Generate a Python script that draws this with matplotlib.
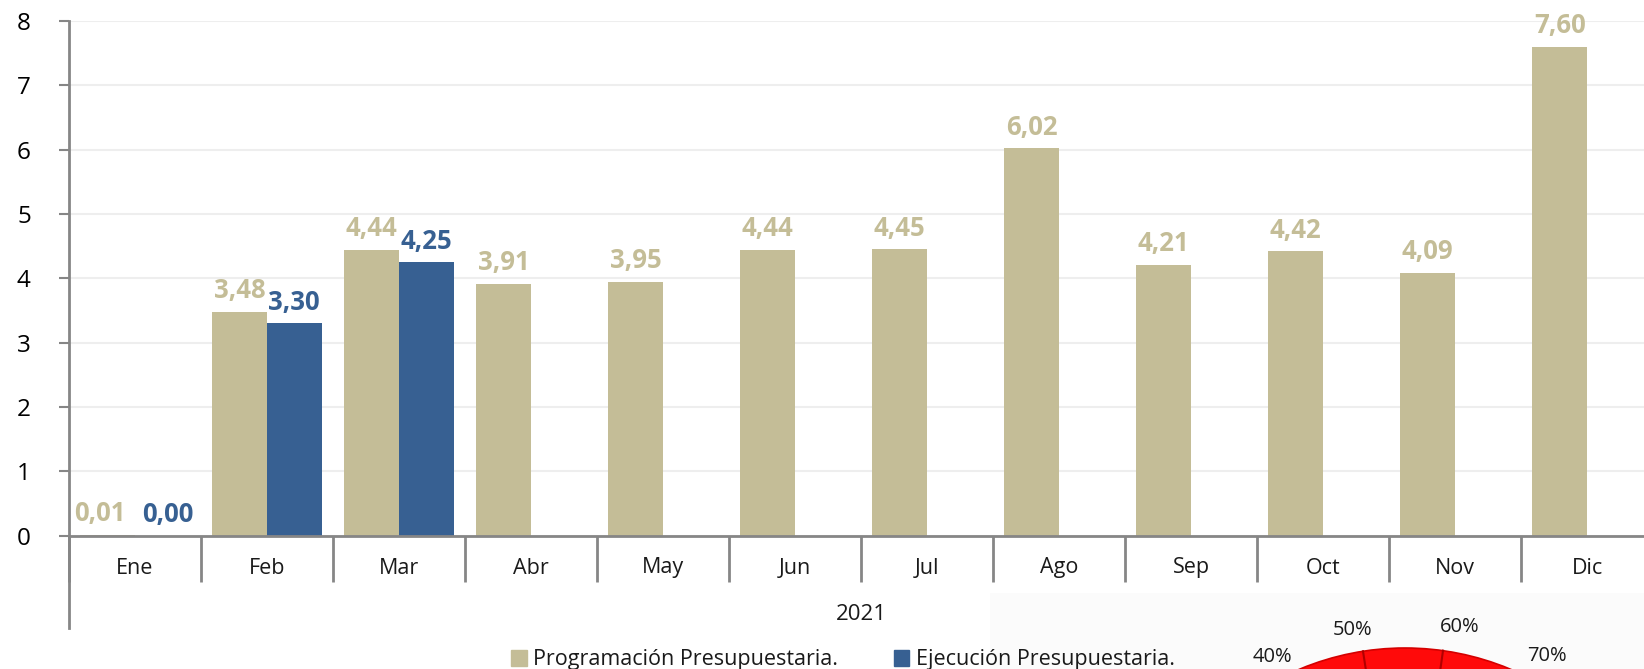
import numpy as np
import matplotlib
matplotlib.use("Agg")
import matplotlib.pyplot as plt
from matplotlib.patches import Rectangle, Circle, Patch
from matplotlib.lines import Line2D
import matplotlib.transforms as mtransforms

# ---- data ----
months = ["Ene", "Feb", "Mar", "Abr", "May", "Jun", "Jul", "Ago", "Sep", "Oct", "Nov", "Dic"]
programacion = [0.01, 3.48, 4.44, 3.91, 3.95, 4.44, 4.45, 6.02, 4.21, 4.42, 4.09, 7.60]
ejecucion = [0.00, 3.30, 4.25]
year_label = "2021"
legend_labels = ["Programación Presupuestaria.", "Ejecución Presupuestaria."]
gauge_labels = ["40%", "50%", "60%", "70%"]

TAN = "#c4bd97"
BLUE = "#376092"
GRAY = "#868686"
FONT = ["Open Sans", "DejaVu Sans"]
plt.rcParams["font.family"] = FONT

W, H = 1644, 669
fig = plt.figure(figsize=(W / 100, H / 100), dpi=100)

y0_px, ytop_px = 535.6, 21.0
ax_h = y0_px - ytop_px
ax = fig.add_axes([69 / W, 1 - y0_px / H, 1584 / W, ax_h / H], zorder=1)
ax.patch.set_alpha(0)

def ay(py):
    return (y0_px - py) / ax_h

x = np.arange(len(months))
w = 0.413
ax.bar(x - w / 2, programacion, width=w, color=TAN, zorder=2)
ax.bar(x[:len(ejecucion)] + w / 2, ejecucion, width=w, color=BLUE, zorder=2)

def fmt(v):
    return f"{v:.2f}".replace(".", ",")

for i, v in enumerate(programacion):
    dx = -6 if i == 0 else 0
    ax.annotate(fmt(v), (x[i] - w / 2, v), xytext=(dx, 5.5), textcoords="offset points",
                ha="center", va="bottom", color=TAN, fontweight="bold", fontsize=18.5)
for i, v in enumerate(ejecucion):
    dx = 4 if i == 0 else 0
    ax.annotate(fmt(v), (x[i] + w / 2, v), xytext=(dx, 5.5), textcoords="offset points",
                ha="center", va="bottom", color=BLUE, fontweight="bold", fontsize=18.5)

ax.set_xlim(-0.5, len(months) - 0.5)
ax.set_ylim(0, 8)
ax.set_yticks(range(9))
ax.yaxis.grid(True, color="#eeeeee", lw=1.5)
ax.set_axisbelow(True)
ax.tick_params(axis="y", length=7.5, width=1.5, color=GRAY, pad=20, labelsize=17.5)
ax.set_xticks([])
ax.set_xticks(np.arange(-0.5, len(months), 1), minor=True)
ax.tick_params(axis="x", which="minor", length=33, width=2, color=GRAY)
for s in ["top", "right"]:
    ax.spines[s].set_visible(False)
for s in ["left", "bottom"]:
    ax.spines[s].set_color(GRAY)
    ax.spines[s].set_linewidth(2)

# extension of the left axis line (category group axis)
ax.add_line(Line2D([0, 0], [ay(628), 0], transform=ax.transAxes, color=GRAY, lw=2, clip_on=False))

trans = mtransforms.blended_transform_factory(ax.transData, ax.transAxes)
for i, m in enumerate(months):
    ax.text(x[i], ay(568), m, transform=trans, ha="center", va="center", fontsize=15.5, color="#1a1a1a")
ax.text(5.5, ay(615), year_label, transform=trans, ha="center", va="center", fontsize=16, color="#1a1a1a")

# ---- overlay (gauge fragment) ----
ov = fig.add_axes([0, 0, 1, 1], zorder=0)
ov.set_xlim(0, W)
ov.set_ylim(H, 0)
ov.axis("off")
ov.add_patch(Rectangle((990, 593), W - 990, H - 593, color="#fbfbfb", lw=0))
cx, cy, r = 1405, 921, 273
ov.add_patch(Circle((cx, cy), r, fc="#ff0a0a", ec="#d40000", lw=1.2))
for px in [1363, 1443]:
    py = cy - np.sqrt(r ** 2 - (px - cx) ** 2)
    ov.plot([cx, px], [cy, py], color="#b00000", lw=1.5)
for lab, (gx, gy) in zip(gauge_labels, [(1272, 657), (1353, 630), (1460, 627), (1547, 656)]):
    ov.text(gx, gy, lab, ha="center", va="center", fontsize=14.5, color="#1a1a1a")

handles = [Patch(color=TAN, label=legend_labels[0]), Patch(color=BLUE, label=legend_labels[1])]
fig.legend(handles=handles, loc="center", bbox_to_anchor=(843 / W, 1 - 660 / H), ncol=2,
           frameon=False, handlelength=0.7, handleheight=0.7, handletextpad=0.3,
           columnspacing=2.6, fontsize=15.5, labelcolor="#1a1a1a")

fig.savefig("out.png", dpi=100)
